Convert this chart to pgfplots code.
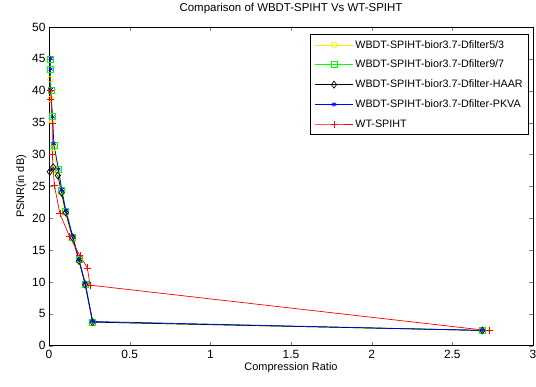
\documentclass[border=0pt]{standalone}
\usepackage{pgfplots}
\pgfplotsset{compat=1.18}
\usepackage{fontspec}
\setmainfont{Liberation Sans}
\begin{document}
\begin{tikzpicture}
\useasboundingbox (-49bp,-41.3bp) rectangle (487bp,345.7bp);
\begin{axis}[
  at={(0,0)}, anchor=south west,
  scale only axis, width=484bp, height=318.7bp,
  xmin=0, xmax=3, ymin=0, ymax=50,
  xtick={0,0.5,...,3}, ytick={0,5,...,50},
  tick align=inside, tick pos=both,
  major tick length=4bp,
  /pgf/number format/assume math mode=true,
  ticklabel style={font=\fontsize{12}{14}\selectfont},
  xticklabel style={yshift=-1bp},
  title={Comparison of WBDT-SPIHT Vs WT-SPIHT},
  title style={font=\fontsize{11.5}{13}\selectfont, at={(0.5,1)}, anchor=south, yshift=4bp},
  xlabel={Compression Ratio},
  ylabel={PSNR(in dB)},
  label style={font=\fontsize{11}{13}\selectfont},
  xlabel style={yshift=3bp},
  ylabel style={yshift=-1bp},
  legend style={at={(0.992,0.978)}, anchor=north east, font=\fontsize{10.8}{12}\selectfont,
    draw=black, line width=0.8pt, inner xsep=4bp, inner ysep=4bp, row sep=6.5bp, cells={anchor=west}},
  legend cell align=left,
  legend image code/.code={\draw[mark repeat=2,mark phase=2,#1] plot coordinates {(0bp,0bp) (19bp,0bp) (38bp,0bp)};},
  every axis plot/.append style={line width=0.7pt},
  axis line style={line width=0.8pt},
]
\addplot[yellow, mark=o, mark size=3bp] coordinates {
(0.01,41.8) (0.012,38.7) (0.02,35.2) (0.03,31.0) (0.05,27.3) (0.075,24.0) (0.1,20.8) (0.145,17.0) (0.185,13.3) (0.225,9.6) (0.27,3.7) (2.686,2.4)};
\addlegendentry{WBDT-SPIHT-bior3.7-Dfilter5/3}
\addplot[green, mark=square, mark size=3bp] coordinates {
(0.01,45.0) (0.01,43.3) (0.012,40.0) (0.022,36.0) (0.032,31.5) (0.058,27.7) (0.078,24.3) (0.104,21.0) (0.146,17.0) (0.186,13.5) (0.224,9.7) (0.27,3.7) (2.686,2.4)};
\addlegendentry{WBDT-SPIHT-bior3.7-Dfilter9/7}
\addplot[black, mark=diamond, mark size=3.5bp] coordinates {
(0.005,27.3) (0.026,28.0) (0.055,26.7) (0.078,24.0) (0.104,20.9) (0.146,17.0) (0.186,13.3) (0.224,9.6) (0.27,3.7) (2.686,2.4)};
\addlegendentry{WBDT-SPIHT-bior3.7-Dfilter-HAAR}
\addplot[blue, mark=asterisk, mark size=2.5bp] coordinates {
(0.01,45.1) (0.01,43.4) (0.01,40.2) (0.022,35.9) (0.03,31.7) (0.058,27.7) (0.079,24.5) (0.105,21.2) (0.147,17.2) (0.186,13.5) (0.225,9.8) (0.271,3.8) (2.686,2.4)};
\addlegendentry{WBDT-SPIHT-bior3.7-Dfilter-PKVA}
\addplot[red, mark=+, mark size=3.5bp] coordinates {
(0.01,40.1) (0.012,38.6) (0.02,34.9) (0.02,30.0) (0.033,25.2) (0.068,20.7) (0.126,17.2) (0.192,14.1) (0.238,12.2) (0.254,9.5) (2.73,2.35)};
\addlegendentry{WT-SPIHT}
\end{axis}
\end{tikzpicture}
\end{document}
